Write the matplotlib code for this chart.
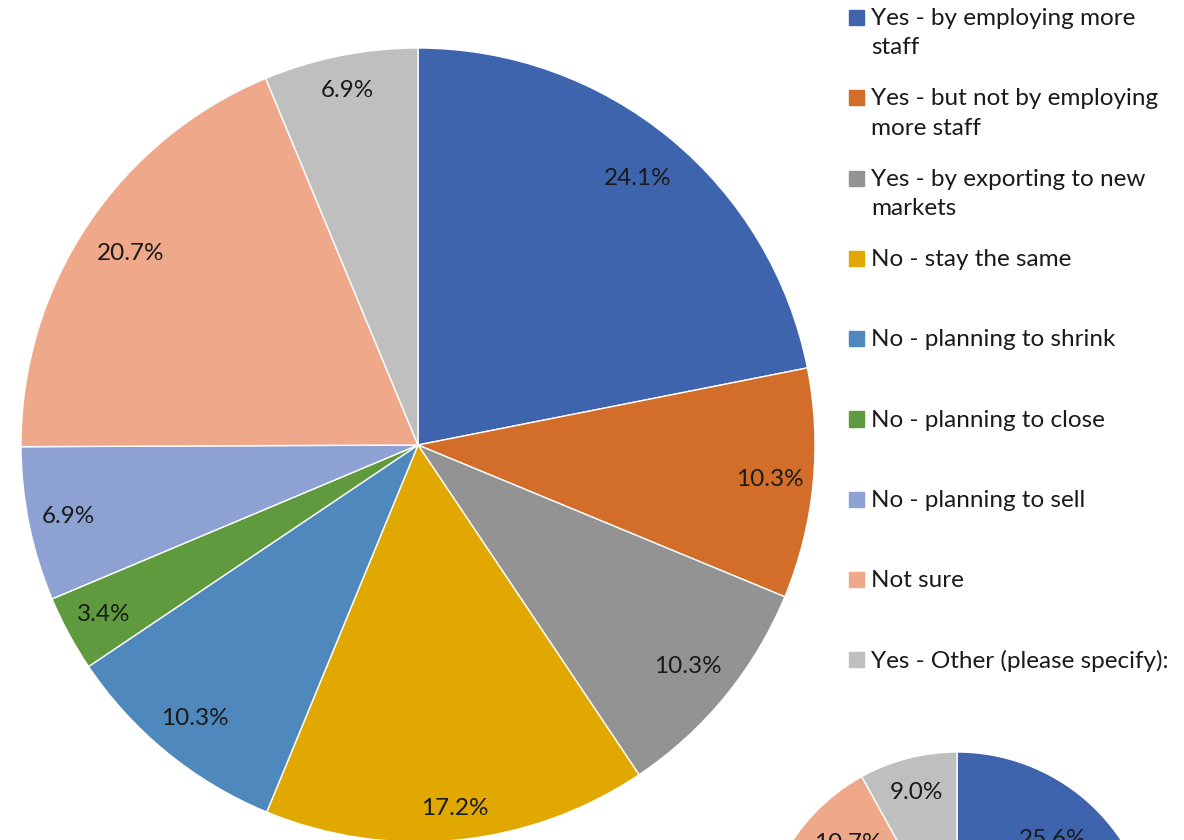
import numpy as np
import matplotlib.pyplot as plt
from matplotlib.patches import Rectangle

# --- Data ---
categories = [
    'Yes - by employing more\nstaff',
    'Yes - but not by employing\nmore staff',
    'Yes - by exporting to new\nmarkets',
    'No - stay the same',
    'No - planning to shrink',
    'No - planning to close',
    'No - planning to sell',
    'Not sure',
    'Yes - Other (please specify):',
]
main_pct = [24.1, 10.3, 10.3, 17.2, 10.3, 3.4, 6.9, 20.7, 6.9]
# second pie is mostly cut off; only three labels are visible
second_pct = [25.6, 11.6, 9.3, 20.9, 9.3, 4.7, 11.0, 10.7, 9.0]
second_visible = ['25.6%', '', '', '', '', '', '', '10.7%', '9.0%']

colors = ['#3D64AD', '#D26D2A', '#939393', '#E0A800', '#4F88BC',
          '#5F9B3E', '#8EA1D3', '#EFA88A', '#BFBFBF']

# label distance from centre (fraction of radius), as placed in the original
main_label_r = [0.87, 0.89, 0.88, 0.92, 0.89, 0.90, 0.90, 0.87, 0.91]
second_label_r = [0.74, 0.8, 0.8, 0.8, 0.8, 0.8, 0.8, 0.77, 0.82]

plt.rcParams['font.family'] = ['Lato', 'DejaVu Sans']
FS = 17.5
TXT = '#1a1a1a'

W, H = 1184, 840
fig = plt.figure(figsize=(W / 100, H / 100), dpi=100)


def pie_axes(cx, cy, r):
    # pixel centre (from top) and radius -> axes in figure fractions
    return fig.add_axes([(cx - r) / W, (H - cy - r) / H, 2 * r / W, 2 * r / H])


def draw_pie(ax, vals, labels, dists):
    wedges, _ = ax.pie(vals, colors=colors, startangle=90, counterclock=False,
                       wedgeprops=dict(edgecolor='white', linewidth=1))
    for w, s, d in zip(wedges, labels, dists):
        ang = np.deg2rad((w.theta1 + w.theta2) / 2)
        ax.text(d * np.cos(ang), d * np.sin(ang), s, ha='center', va='center',
                fontsize=FS, color=TXT)
    ax.set_xlim(-1, 1)
    ax.set_ylim(-1, 1)
    ax.axis('off')


# --- Main pie ---
ax = pie_axes(418, 445, 397)
draw_pie(ax, main_pct, [f'{v:.1f}%' for v in main_pct], main_label_r)

# --- Second pie (partially visible at bottom right) ---
ax2 = pie_axes(957, 949, 197)
draw_pie(ax2, second_pct, second_visible, second_label_r)

# --- Legend (drawn by hand, fixed slots) ---
y0 = 17
slot = 80.3
for i, (lab, c) in enumerate(zip(categories, colors)):
    y = y0 + i * slot
    fig.add_artist(Rectangle((849 / W, 1 - (y + 8) / H), 15 / W, 15 / H,
                             transform=fig.transFigure, color=c))
    fig.text(871 / W, 1 - (y - 9) / H, lab, fontsize=FS, color=TXT,
             va='top', ha='left', linespacing=1.5)

fig.savefig('out.png', dpi=100)
